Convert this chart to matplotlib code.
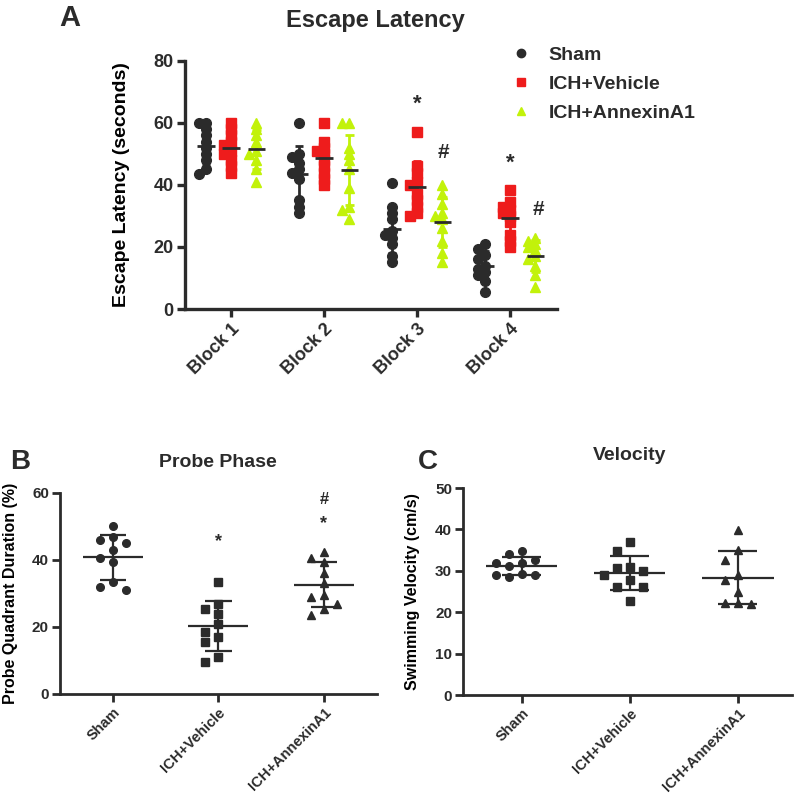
import numpy as np
import matplotlib.pyplot as plt
from matplotlib.lines import Line2D

plt.rcParams['font.family'] = ['Liberation Sans', 'DejaVu Sans']
plt.rcParams['font.weight'] = 'bold'
plt.rcParams['axes.labelweight'] = 'bold'

groups = ['Sham', 'ICH+Vehicle', 'ICH+AnnexinA1']
blocks = ['Block 1', 'Block 2', 'Block 3', 'Block 4']

# escape latency (seconds), one list per block
sham_latency = [
    [60, 60, 58, 56, 54, 52, 50, 48, 45, 43.5],
    [60, 50, 49, 47, 45, 44, 42, 35, 33, 31],
    [40.5, 33, 31, 29, 25, 24, 23, 21, 17, 15],
    [21, 19.5, 17.5, 16, 14, 13, 12, 11, 9, 5.5],
]
vehicle_latency = [
    [60, 58, 56, 54, 53, 51, 50, 48, 46, 44],
    [60, 54, 52, 51, 50, 48, 46, 44, 42, 40],
    [57, 46, 44, 41, 40, 37, 35, 33, 31, 30],
    [38.5, 34.5, 33, 32, 31, 30, 28, 24, 22, 20],
]
annexin_latency = [
    [60, 58, 56, 54, 51, 50, 48, 45, 41],
    [60, 60, 52, 50, 48, 45, 39, 33, 32, 29],
    [40, 37, 34, 31, 30, 29, 26, 22, 18, 15],
    [23, 22, 21, 20, 19, 17, 16, 14, 11, 7],
]

# probe quadrant duration (%)
probe_sham = [50, 47, 46, 45, 43, 40.5, 39.5, 33.5, 32, 31]
probe_vehicle = [33.5, 27, 25.5, 24, 21, 18.5, 17, 15.5, 11, 9.5]
probe_annexin = [42.5, 40.5, 39.5, 36, 33, 29.5, 29, 27, 25.5, 23.5]

# swimming velocity (cm/s)
vel_sham = [34.7, 34, 32.7, 31.9, 31.8, 31.1, 29.3, 28.9, 28.9, 28.4]
vel_vehicle = [37, 34.7, 30.9, 30.7, 29.9, 28.9, 27.9, 26.1, 26.1, 22.7]
vel_annexin = [39.8, 35, 32.7, 28.9, 27.7, 24.8, 22.3, 22.3, 21.9]

dark = '#2b2b2b'
colors = [dark, '#ee1c1c', '#c2f20a']
markers = ['o', 's', '^']


def spread(ax, vals, step, gap):
    # sideways offsets so points don't pile up (prism style)
    vals = np.asarray(vals, float)
    ys = ax.transData.transform(np.column_stack([np.zeros(len(vals)), vals]))[:, 1]
    px = ax.transData.transform((1, 0))[0] - ax.transData.transform((0, 0))[0]
    cands = [0, -1, 1, -2, 2, -3, 3]
    placed, offs = [], []
    for y in ys:
        for k in cands:
            dx = k * step * px
            if all(abs(dx - a) > 1 or abs(y - b) >= gap for a, b in placed):
                break
        placed.append((dx, y))
        offs.append(k * step)
    return np.array(offs)


def group_plot(ax, x0, vals, marker, color, ms, step, gap, mean_w, cap_w,
               bar_color, mean_color, lw):
    offs = spread(ax, vals, step, gap)
    ax.plot(x0 + offs, vals, ls='none', marker=marker, color=color, ms=ms,
            mec=color, zorder=3, clip_on=False)
    m = np.mean(vals)
    sd = np.std(vals, ddof=1)
    ax.vlines(x0, m - sd, m + sd, color=bar_color, lw=lw, zorder=4)
    ax.hlines([m - sd, m + sd], x0 - cap_w / 2, x0 + cap_w / 2, color=bar_color, lw=lw, zorder=4)
    ax.hlines(m, x0 - mean_w / 2, x0 + mean_w / 2, color=mean_color, lw=lw, zorder=5)


def style(ax, lw, fs):
    for s in ['top', 'right']:
        ax.spines[s].set_visible(False)
    for s in ['left', 'bottom']:
        ax.spines[s].set_linewidth(lw)
        ax.spines[s].set_color(dark)
    ax.tick_params(width=lw, length=6, labelsize=fs, colors=dark, pad=2)


fig = plt.figure(figsize=(8, 8.02), dpi=100)

# ---- panel A
axA = fig.add_axes([0.231, 0.6147, 0.465, 0.3093])
axA.set_xlim(0.5, 4.5)
axA.set_ylim(0, 80)
style(axA, 2.4, 13)
axA.set_yticks([0, 20, 40, 60, 80])
axA.set_xticks(range(1, 5))
axA.set_xticklabels(blocks, rotation=45, ha='right', rotation_mode='anchor', fontsize=13)
axA.set_ylabel('Escape Latency (seconds)', fontsize=14)
axA.yaxis.set_label_coords(-0.148, 0.5)

shift = [-0.27, 0, 0.27]
for gi, data in enumerate([sham_latency, vehicle_latency, annexin_latency]):
    for bi, vals in enumerate(data):
        group_plot(axA, bi + 1 + shift[gi], vals, markers[gi], colors[gi], 7,
                   0.08, 6, 0.19, 0.09, colors[gi], dark, 2)

axA.text(3, 66, '*', ha='center', va='center', fontsize=16, color=dark)
axA.text(3.28, 50.5, '#', ha='center', va='center', fontsize=15, color=dark)
axA.text(4, 47, '*', ha='center', va='center', fontsize=16, color=dark)
axA.text(4.3, 32, '#', ha='center', va='center', fontsize=15, color=dark)

fig.text(375 / 800, 1 - 20 / 802, 'Escape Latency', ha='center', va='center', fontsize=17, color=dark)
fig.text(70 / 800, 1 - 18 / 802, 'A', ha='center', va='center', fontsize=21, color=dark)

handles = [Line2D([], [], ls='none', marker=markers[i], color=colors[i], ms=6) for i in range(3)]
fig.legend(handles, groups, loc='center left', bbox_to_anchor=(492 / 800, 1 - 84 / 802),
           frameon=False, prop={'weight': 'bold', 'size': 14}, handletextpad=0.8,
           labelspacing=0.6, handlelength=1.2, labelcolor=dark)

# ---- panel B
axB = fig.add_axes([0.075, 0.1347, 0.396, 0.2506])
axB.set_xlim(0.5, 3.5)
axB.set_ylim(0, 60)
style(axB, 2, 11)
axB.set_yticks([0, 20, 40, 60])
axB.set_xticks([1, 2, 3])
axB.set_xticklabels(groups, rotation=45, ha='right', rotation_mode='anchor', fontsize=10.5)
axB.set_ylabel('Probe Quadrant Duration (%)', fontsize=11.5)
axB.yaxis.set_label_coords(-0.132, 0.5)
for gi, vals in enumerate([probe_sham, probe_vehicle, probe_annexin]):
    group_plot(axB, gi + 1, vals, markers[gi], dark, 5.5, 0.125, 10, 0.57, 0.25, dark, dark, 1.6)
axB.text(2, 45.5, '*', ha='center', va='center', fontsize=13, color=dark)
axB.text(3, 51, '*', ha='center', va='center', fontsize=13, color=dark)
axB.text(3, 58, '#', ha='center', va='center', fontsize=12, color=dark)
fig.text(218 / 800, 1 - 463 / 802, 'Probe Phase', ha='center', va='center', fontsize=14, color=dark)
fig.text(20 / 800, 1 - 462 / 802, 'B', ha='center', va='center', fontsize=20, color=dark)

# ---- panel C
axC = fig.add_axes([0.579, 0.1334, 0.411, 0.2581])
axC.set_xlim(0.46, 3.5)
axC.set_ylim(0, 50)
style(axC, 2, 11)
axC.set_yticks([0, 10, 20, 30, 40, 50])
axC.set_xticks([1, 2, 3])
axC.set_xticklabels(groups, rotation=45, ha='right', rotation_mode='anchor', fontsize=10.5)
axC.set_ylabel('Swimming Velocity (cm/s)', fontsize=11.5)
axC.yaxis.set_label_coords(-0.131, 0.5)
for gi, vals in enumerate([vel_sham, vel_vehicle, vel_annexin]):
    group_plot(axC, gi + 1, vals, markers[gi], dark, 5.5, 0.12, 10, 0.66, 0.36, dark, dark, 1.6)
fig.text(630 / 800, 1 - 455 / 802, 'Velocity', ha='center', va='center', fontsize=14, color=dark)
fig.text(428 / 800, 1 - 462 / 802, 'C', ha='center', va='center', fontsize=20, color=dark)

fig.savefig('out.png', dpi=100)
